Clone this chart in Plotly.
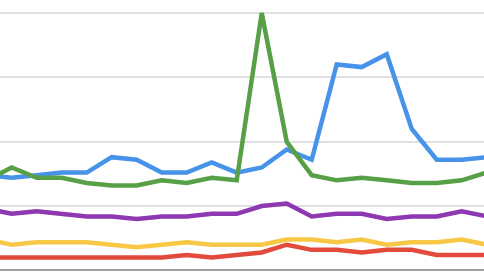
import plotly.graph_objects as go

x = list(range(21))
blue = [37, 36, 37, 38, 38, 44, 43, 38, 38, 42, 38, 40, 47, 43, 80, 79, 84, 55, 43, 43, 44]
green = [35, 40, 36, 36, 34, 33, 33, 35, 34, 36, 35, 100, 50, 37, 35, 36, 35, 34, 34, 35, 38]
purple = [24, 22, 23, 22, 21, 21, 20, 21, 21, 22, 22, 25, 26, 21, 22, 22, 20, 21, 21, 23, 21]
yellow = [12, 10, 11, 11, 11, 10, 9, 10, 11, 10, 10, 10, 12, 12, 11, 12, 10, 11, 11, 12, 10]
red = [5, 5, 5, 5, 5, 5, 5, 5, 6, 5, 6, 7, 10, 8, 8, 7, 8, 8, 6, 6, 6]
grid_vals = [0, 25, 50, 75, 100]

series = [
    ("purple", purple, "#8E38B2"),
    ("yellow", yellow, "#F7C746"),
    ("red", red, "#E24A3B"),
    ("blue", blue, "#4793EA"),
    ("green", green, "#58A048"),
]

fig = go.Figure()
for name, vals, col in series:
    fig.add_trace(go.Scatter(x=x, y=vals, mode="lines", name=name,
                             line=dict(color=col, width=4.5), hoverinfo="skip"))

fig.update_layout(
    width=484, height=272,
    margin=dict(l=0, r=0, t=0, b=0),
    paper_bgcolor="white", plot_bgcolor="white",
    showlegend=False,
    xaxis=dict(range=[0.532, 19.89], showgrid=False, zeroline=False,
               showticklabels=False, ticks="", showline=False),
    yaxis=dict(range=[-0.6, 105.05], tickvals=grid_vals, showticklabels=False,
               ticks="", showgrid=True, gridcolor="#E0E0E0", gridwidth=1.5,
               zeroline=True, zerolinecolor="#A0A0A0", zerolinewidth=1.5,
               showline=False),
)

fig.write_html("out.html")
